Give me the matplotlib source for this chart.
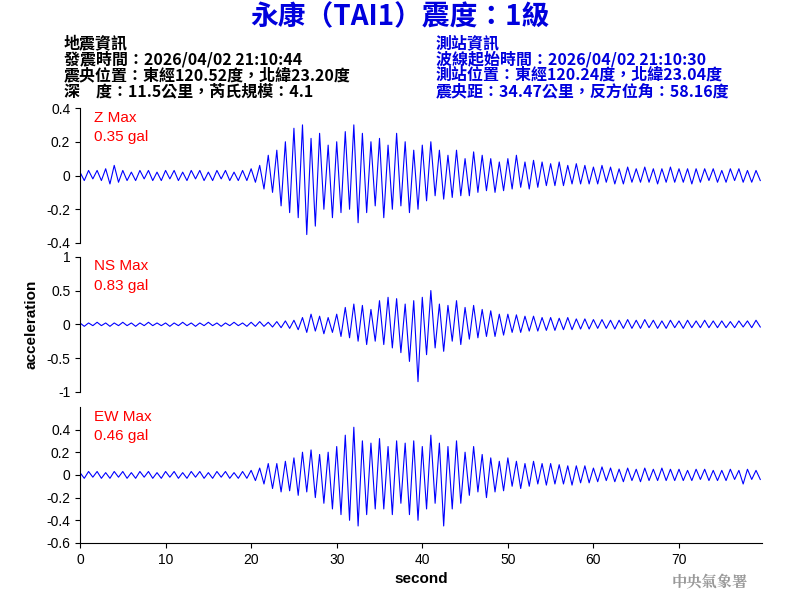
import matplotlib
matplotlib.use("Agg")
import matplotlib.pyplot as plt
import numpy as np

plt.rcParams['font.family'] = ['Liberation Sans', 'Noto Sans CJK TC', 'DejaVu Sans']

dt = 0.5
z_vals = [0.02,-0.03,0.03,-0.02,0.03,-0.03,0.04,-0.05,0.06,-0.04,
0.03,-0.03,0.02,-0.03,0.03,-0.02,0.03,-0.03,0.02,-0.03,
0.03,-0.02,0.03,-0.03,0.02,-0.03,0.03,-0.02,0.03,-0.03,
0.02,-0.03,0.03,-0.02,0.03,-0.03,0.02,-0.03,0.03,-0.03,
0.04,-0.04,0.06,-0.08,0.12,-0.10,0.15,-0.18,0.20,-0.22,
0.28,-0.25,0.30,-0.35,0.22,-0.30,0.25,-0.20,0.18,-0.25,
0.20,-0.22,0.26,-0.20,0.30,-0.28,0.25,-0.22,0.20,-0.18,
0.22,-0.25,0.18,-0.20,0.25,-0.18,0.20,-0.22,0.15,-0.20,
0.18,-0.15,0.20,-0.12,0.15,-0.14,0.12,-0.13,0.15,-0.12,
0.10,-0.12,0.14,-0.10,0.12,-0.09,0.10,-0.10,0.08,-0.09,
0.10,-0.08,0.12,-0.07,0.08,-0.08,0.09,-0.07,0.08,-0.06,
0.07,-0.06,0.08,-0.06,0.06,-0.05,0.07,-0.05,0.06,-0.05,
0.05,-0.05,0.06,-0.04,0.05,-0.05,0.04,-0.05,0.05,-0.04,
0.04,-0.04,0.05,-0.04,0.04,-0.05,0.04,-0.04,0.05,-0.04,
0.04,-0.04,0.04,-0.05,0.04,-0.04,0.04,-0.03,0.04,-0.04,
0.03,-0.04,0.04,-0.03,0.04,-0.04,0.03,-0.04,0.03,-0.03]
ns_vals = [0.02,-0.03,0.02,-0.02,0.03,-0.02,0.02,-0.03,0.02,-0.02,
0.03,-0.02,0.02,-0.03,0.02,-0.02,0.03,-0.02,0.02,-0.02,
0.02,-0.03,0.02,-0.02,0.03,-0.02,0.02,-0.03,0.02,-0.02,
0.03,-0.02,0.02,-0.03,0.02,-0.02,0.03,-0.02,0.02,-0.03,
0.03,-0.03,0.04,-0.03,0.03,-0.04,0.04,-0.05,0.05,-0.06,
0.06,-0.08,0.10,-0.12,0.15,-0.10,0.12,-0.14,0.10,-0.12,
0.15,-0.18,0.25,-0.20,0.30,-0.25,0.28,-0.30,0.22,-0.25,
0.35,-0.30,0.40,-0.35,0.38,-0.42,0.30,-0.55,0.35,-0.85,
0.40,-0.45,0.50,-0.35,0.30,-0.40,0.28,-0.25,0.35,-0.30,
0.25,-0.22,0.28,-0.20,0.22,-0.18,0.20,-0.18,0.15,-0.16,
0.15,-0.12,0.14,-0.12,0.12,-0.10,0.12,-0.10,0.10,-0.09,
0.10,-0.09,0.09,-0.08,0.10,-0.08,0.08,-0.07,0.08,-0.07,
0.07,-0.06,0.07,-0.06,0.06,-0.07,0.06,-0.06,0.07,-0.06,
0.06,-0.06,0.07,-0.05,0.06,-0.06,0.05,-0.06,0.06,-0.05,
0.05,-0.06,0.06,-0.05,0.05,-0.05,0.06,-0.05,0.05,-0.05,
0.05,-0.05,0.04,-0.05,0.05,-0.04,0.05,-0.05,0.06,-0.04]
ew_vals = [0.02,-0.03,0.03,-0.02,0.03,-0.03,0.02,-0.03,0.03,-0.02,
0.03,-0.03,0.02,-0.03,0.03,-0.02,0.03,-0.03,0.02,-0.03,
0.03,-0.02,0.03,-0.03,0.02,-0.03,0.03,-0.02,0.03,-0.03,
0.02,-0.03,0.03,-0.02,0.03,-0.03,0.02,-0.03,0.03,-0.03,
0.04,-0.05,0.06,-0.08,0.10,-0.12,0.10,-0.15,0.12,-0.14,
0.15,-0.18,0.20,-0.15,0.22,-0.20,0.18,-0.25,0.20,-0.30,
0.25,-0.35,0.35,-0.40,0.42,-0.45,0.30,-0.35,0.28,-0.30,
0.32,-0.30,0.25,-0.35,0.30,-0.25,0.28,-0.35,0.30,-0.40,
0.25,-0.30,0.35,-0.25,0.28,-0.45,0.25,-0.30,0.30,-0.25,
0.20,-0.18,0.25,-0.15,0.18,-0.20,0.15,-0.15,0.12,-0.14,
0.15,-0.10,0.12,-0.12,0.10,-0.10,0.12,-0.08,0.10,-0.09,
0.10,-0.08,0.09,-0.08,0.08,-0.09,0.08,-0.07,0.08,-0.07,
0.06,-0.06,0.07,-0.05,0.06,-0.06,0.05,-0.06,0.06,-0.05,
0.05,-0.06,0.06,-0.05,0.05,-0.05,0.06,-0.05,0.05,-0.05,
0.05,-0.05,0.04,-0.05,0.05,-0.04,0.05,-0.05,0.04,-0.05,
0.04,-0.05,0.05,-0.04,0.04,-0.08,0.05,-0.04,0.04,-0.04]

traces = [z_vals, ns_vals, ew_vals]
labels = ["Z Max\n0.35 gal", "NS Max\n0.83 gal", "EW Max\n0.46 gal"]
ylims = [(-0.4, 0.4), (-1, 1), (-0.6, 0.6)]
yticks = [[-0.4,-0.2,0,0.2,0.4], [-1,-0.5,0,0.5,1], [-0.6,-0.4,-0.2,0,0.2,0.4]]
xticks = [0, 10, 20, 30, 40, 50, 60, 70]

fig = plt.figure(figsize=(8, 6), dpi=100)
pos = [(0.595, 0.225), (0.347, 0.225), (0.095, 0.227)]
for i, (vals, lab, yl, yt) in enumerate(zip(traces, labels, ylims, yticks)):
    ax = fig.add_axes([0.1, pos[i][0], 0.8525, pos[i][1]])
    t = np.arange(len(vals)) * dt
    ax.plot(t, vals, color='#0000ff', lw=0.8)
    ax.set_xlim(0, 79.7)
    ax.set_ylim(*yl)
    ax.set_yticks(yt)
    ax.set_yticklabels(['%g' % v for v in yt], fontsize=10)
    for s in ['top', 'right']:
        ax.spines[s].set_visible(False)
    if i < 2:
        ax.spines['bottom'].set_visible(False)
        ax.set_xticks([])
    else:
        ax.set_xticks(xticks)
        ax.tick_params(labelsize=10)
        ax.set_xlabel('second', fontsize=11, fontweight='bold')
    ax.text(0.02, 0.98, lab, transform=ax.transAxes, color='red', fontsize=11,
            va='top', ha='left', linespacing=1.5)

fig.text(0.04, 0.46, 'acceleration', rotation=90, fontsize=11, fontweight='bold',
         va='center', ha='center')

cjk = ['Noto Sans CJK TC', 'DejaVu Sans']
fig.text(0.5, 0.972, '永康（TAI1）震度：1級', color='#0000dd', fontsize=20, fontweight='bold',
         ha='center', va='center', family=cjk)
left = ['地震資訊', '發震時間：2026/04/02 21:10:44', '震央位置：東經120.52度，北緯23.20度',
        '深　度：11.5公里，芮氏規模：4.1']
right = ['測站資訊', '波線起始時間：2026/04/02 21:10:30', '測站位置：東經120.24度，北緯23.04度',
         '震央距：34.47公里，反方位角：58.16度']
for k, (a, b) in enumerate(zip(left, right)):
    y = 0.928 - k * 0.0265
    fig.text(0.08, y, a, color='black', fontsize=11.5, fontweight='bold', va='center', family=cjk)
    fig.text(0.545, y, b, color='#0000dd', fontsize=11.5, fontweight='bold', va='center', family=cjk)

fig.text(0.935, 0.03, '中央氣象署', color='#999999', fontsize=11, fontweight='bold',
         ha='right', va='center', family=['Noto Serif CJK TC', 'Noto Sans CJK TC'])

fig.savefig('out.png', dpi=100)
